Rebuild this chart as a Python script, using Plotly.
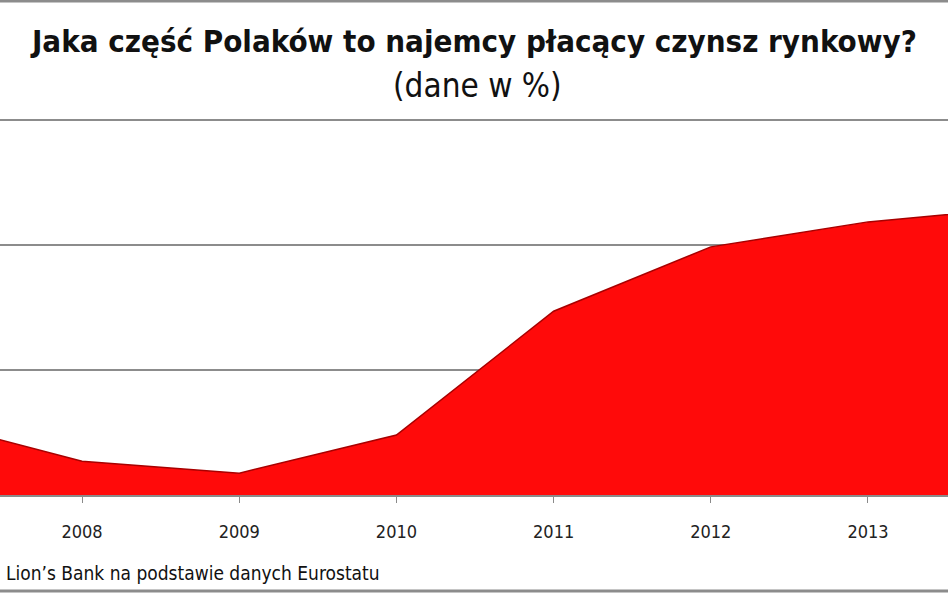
import plotly.graph_objects as go

years = [2007, 2008, 2009, 2010, 2011, 2012, 2013, 2014]
values = [1.2, 0.54, 0.35, 0.96, 2.94, 3.97, 4.37, 4.6]
tick_years = [2008, 2009, 2010, 2011, 2012, 2013]
tick_labels = ["2008", "2009", "2010", "2011", "2012", "2013"]

title_text = "Jaka część Polaków to najemcy płacący czynsz rynkowy?"
subtitle_text = "(dane w %)"
source_text = "Lion’s Bank na podstawie danych Eurostatu"

fig = go.Figure()
fig.add_trace(go.Scatter(
    x=years, y=values, mode="lines", fill="tozeroy",
    line=dict(color="#a80000", width=1.5),
    fillcolor="rgb(255,10,10)",
    hoverinfo="skip", showlegend=False,
))

narrow = "Liberation Sans Narrow, DejaVu Sans Condensed, Arial Narrow, sans-serif"

fig.update_layout(
    width=948, height=593,
    margin=dict(l=0, r=0, t=120, b=98),
    paper_bgcolor="white", plot_bgcolor="white",
    xaxis=dict(
        range=[2007.478, 2013.509], tickvals=tick_years, ticktext=tick_labels,
        showgrid=False, zeroline=False, showline=True, linecolor="#8a8a8a", linewidth=1.5,
        ticks="outside", ticklen=6, tickcolor="#8a8a8a", tickwidth=1,
        ticklabelstandoff=14,
        tickfont=dict(family=narrow, size=18, color="#222222"),
    ),
    yaxis=dict(
        range=[0, 6], tickvals=[0, 2, 4, 6], showticklabels=False,
        showgrid=True, gridcolor="#8c8c8c", gridwidth=1.5, zeroline=False,
    ),
    shapes=[
        dict(type="line", xref="paper", yref="paper", x0=0, x1=1, y0=1, y1=1,
             line=dict(color="#8c8c8c", width=2)),
    ],
    annotations=[
        dict(text="<b>" + title_text + "</b>", xref="paper", yref="paper",
             x=0.499, y=1 + (120 - 41) / 375, xanchor="center", yanchor="middle",
             showarrow=False, font=dict(family=narrow, size=31, color="#111111")),
        dict(text=subtitle_text, xref="paper", yref="paper",
             x=0.504, y=1 + (120 - 85) / 375, xanchor="center", yanchor="middle",
             showarrow=False, font=dict(family=narrow, size=33, color="#111111")),
        dict(text=source_text, xref="paper", yref="paper",
             x=0.004, y=-(573 - 495) / 375, xanchor="left", yanchor="middle",
             showarrow=False, font=dict(family=narrow, size=19, color="#111111")),
    ],
)

# top and bottom frame borders of the picture
fig.add_shape(type="line", xref="paper", yref="paper", x0=0, x1=1,
              y0=1 + 119 / 375, y1=1 + 119 / 375, line=dict(color="#8c8c8c", width=3))
fig.add_shape(type="line", xref="paper", yref="paper", x0=0, x1=1,
              y0=-(591 - 495) / 375, y1=-(591 - 495) / 375, line=dict(color="#8c8c8c", width=3))

fig.write_html("out.html")
